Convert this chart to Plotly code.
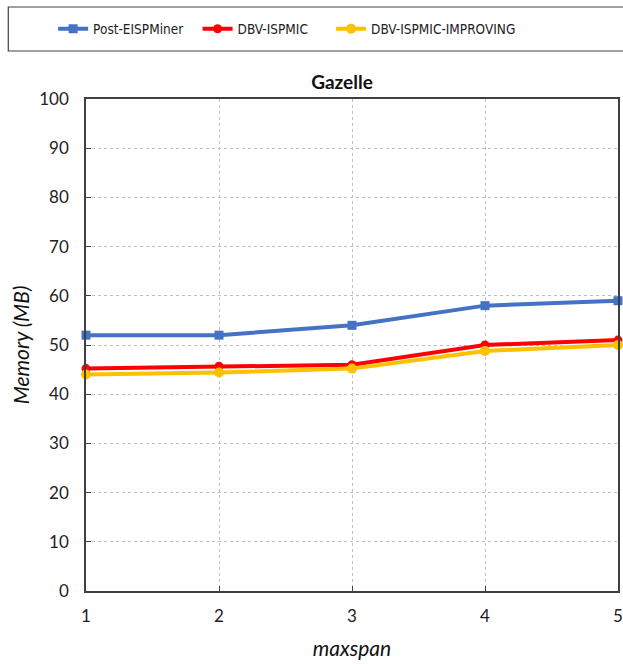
import plotly.graph_objects as go

# maxspan values and memory usage (MB) for each algorithm on the Gazelle dataset
maxspan = [1, 2, 3, 4, 5]
post_eispminer = [52, 52, 54, 58, 59]
dbv_ispmic = [45.2, 45.7, 46.0, 50.0, 51.0]
dbv_ispmic_improving = [44.0, 44.4, 45.2, 48.8, 50.0]

y_ticks = list(range(0, 101, 10))

W, H = 623, 664
L, R, T, B = 86, 3, 99, 73
plot_w = W - L - R
plot_h = H - T - B


def px_x(px):
    return (px - L) / plot_w


def px_y(py):
    return (H - B - py) / plot_h


fig = go.Figure()
fig.add_trace(go.Scatter(
    x=maxspan, y=post_eispminer, name="Post-EISPMiner", mode="lines+markers",
    line=dict(color="#4472C4", width=4),
    marker=dict(symbol="square", size=9, color="#4472C4"),
    cliponaxis=False, legend="legend",
))
fig.add_trace(go.Scatter(
    x=maxspan, y=dbv_ispmic, name="DBV-ISPMIC", mode="lines+markers",
    line=dict(color="#FF0000", width=4),
    marker=dict(symbol="circle", size=9, color="#FF0000"),
    cliponaxis=False, legend="legend2",
))
fig.add_trace(go.Scatter(
    x=maxspan, y=dbv_ispmic_improving, name="DBV-ISPMIC-IMPROVING", mode="lines+markers",
    line=dict(color="#FFC000", width=4),
    marker=dict(symbol="circle", size=10, color="#FFC000"),
    cliponaxis=False, legend="legend3",
))

# legend frame across the top
fig.add_shape(
    type="rect", xref="paper", yref="paper",
    x0=px_x(8), x1=px_x(W + 10),
    y0=px_y(51), y1=px_y(7),
    line=dict(color="#444444", width=1.2), fillcolor="rgba(0,0,0,0)",
)

axis_common = dict(
    showline=True, linecolor="#404040", linewidth=1.5, mirror=True,
    showgrid=True, gridcolor="#BFBFBF", griddash="dot", gridwidth=1,
    ticks="inside", ticklen=5, tickcolor="#404040",
    zeroline=False,
    tickfont=dict(family="Lato", size=17, color="#222222"),
)

legend_font = dict(family="Liberation Sans Narrow, DejaVu Sans Condensed", size=13.5, color="#222222")


def legend_at(px):
    return dict(
        orientation="h", x=px_x(px), xanchor="left",
        y=px_y(29), yanchor="middle",
        font=legend_font, bgcolor="rgba(0,0,0,0)",
    )


fig.update_layout(
    width=W, height=H,
    margin=dict(l=L, r=R, t=T, b=B),
    plot_bgcolor="white", paper_bgcolor="white",
    title=dict(
        text="<b>Gazelle</b>", x=342 / W, xanchor="center",
        y=1 - 82 / H, yanchor="middle",
        font=dict(family="Lato", size=19, color="#111111"),
    ),
    xaxis=dict(
        range=[1, 5], tickvals=maxspan, ticktext=[str(v) for v in maxspan],
        ticklabelstandoff=9, automargin="height",
        title=dict(text="<i>maxspan</i>", font=dict(family="Lato", size=21, color="#111111"), standoff=16),
        **axis_common,
    ),
    yaxis=dict(
        range=[0, 100], tickvals=y_ticks,
        ticklabelstandoff=12, automargin="width",
        title=dict(text="<i>Memory (MB)</i>", font=dict(family="Lato", size=21, color="#111111"), standoff=4),
        **axis_common,
    ),
    legend=legend_at(53),
    legend2=legend_at(198),
    legend3=legend_at(332),
    showlegend=True,
)

fig.write_html("out.html")
